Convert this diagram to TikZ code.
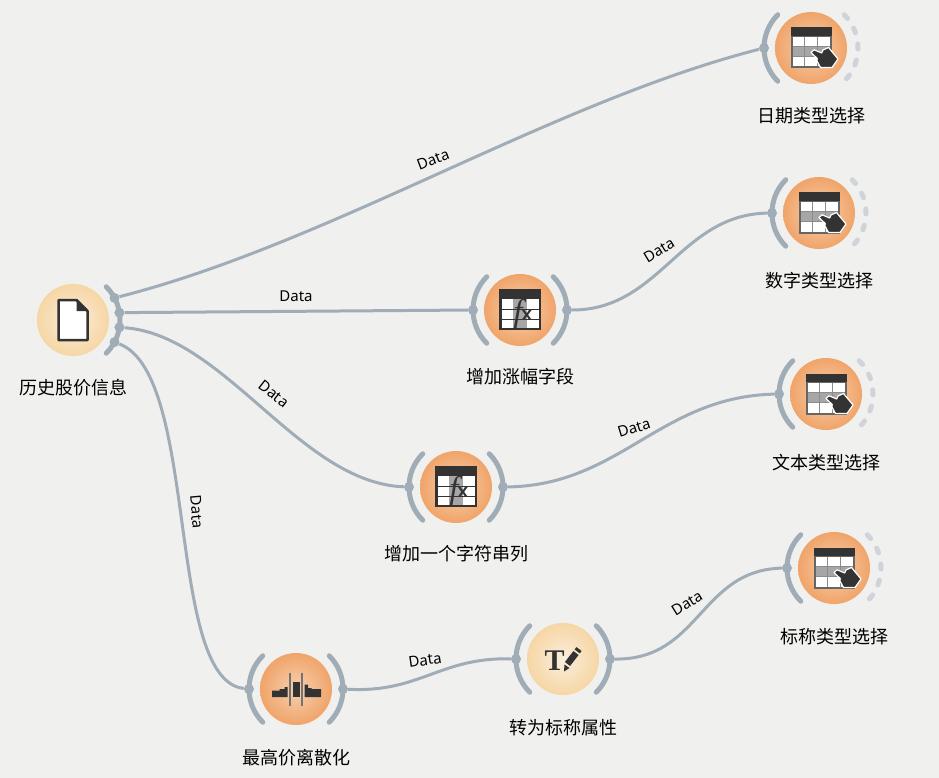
\documentclass[tikz,border=0pt]{standalone}
\usepackage{fontspec}
\setmainfont{Noto Sans}
\newfontfamily\cjk{Noto Sans CJK SC}
\newfontfamily\tfont[BoldFont={* Bold}]{Liberation Serif}
\newfontfamily\xfont[BoldFont={* Bold}]{Liberation Sans}
\usetikzlibrary{calc}
\definecolor{canvasgray}{HTML}{F0F0EF}
\definecolor{linkgray}{HTML}{A0ADB7}
\definecolor{idlegray}{HTML}{CED4D9}
\definecolor{icondark}{HTML}{333333}
\definecolor{hotin}{HTML}{F7D0B0}
\definecolor{hotout}{HTML}{F0A469}
\definecolor{mildin}{HTML}{FBEEDB}
\definecolor{mildout}{HTML}{F6D6A5}
\tikzset{
  widget/.style={circle,minimum size=72pt,inner sep=0pt},
  hot/.style={widget,inner color=hotin,outer color=hotout},
  mild/.style={widget,inner color=mildin,outer color=mildout},
  portdot/.style={circle,fill=linkgray,minimum size=10pt,inner sep=0pt},
  portarc/.style={draw=linkgray,line width=5pt,line cap=round},
  idlearc/.style={draw=idlegray,line width=5pt,line cap=round,dash pattern=on 5pt off 11.4pt},
  link/.style={draw=linkgray,line width=3pt},
  linktext/.style={font=\fontsize{15}{17}\selectfont,inner sep=0pt},
  nametext/.style={font=\cjk\fontsize{18}{20}\selectfont,inner sep=0pt}
}
% table with the pointing hand
\newcommand{\selecticon}{
  \fill[black!60] (-20.5,-20.5) rectangle (20.5,20.5);
  \fill[icondark] (-20.5,-20.5) rectangle (20.5,-12);
  \fill[white] (-18.5,-11) rectangle (19,18.5);
  \fill[black!35] (-18.5,-1.5) rectangle (19,8.5);
  \foreach \gx in {-6.5,6.3} \draw[black!45,line width=1.3pt] (\gx,-11) -- (\gx,18.5);
  \foreach \gy in {-1.5,8.5} \draw[black!45,line width=1.3pt] (-18.5,\gy) -- (19,\gy);
  \draw[white,line width=1.2pt,fill=icondark,line join=round] (0,4.5) -- (3,1.8) -- (10.7,5) -- (12,2) -- (17.5,-0.5)
    -- (27,11) -- (21,19.5) -- (9.5,19.5) -- (6,13) -- (6.2,10.5) -- cycle;
}
% table with the formula sign
\newcommand{\formulaicon}{
  \fill[icondark] (-21,-21) rectangle (21,20);
  \fill[white] (-18.5,-11) rectangle (18.5,18);
  \fill[black!35] (-7,-11) rectangle (7,18);
  \foreach \gy in {-1,9} \draw[icondark,line width=1pt] (-18.5,\gy) -- (18.5,\gy);
  \node[text=icondark,inner sep=0pt,font=\tfont\fontsize{33}{33}\selectfont\itshape] at (-2,4) {f};
  \node[text=icondark,inner sep=0pt,font=\xfont\fontsize{19}{19}\selectfont\bfseries] at (7,5.5) {x};
}
\begin{document}
\begin{tikzpicture}[x=1pt,y=-1pt]
  \useasboundingbox[fill=canvasgray] (0,0) rectangle (939,778);
  % widgets
  \foreach \nm/\px/\py/\kind/\lab/\ly in {
    sela/811/48/hot/日期类型选择/116,
    selb/819/213/hot/数字类型选择/281,
    selc/826/394/hot/文本类型选择/463,
    seld/834/568/hot/标称类型选择/637,
    fxa/520/310/hot/增加涨幅字段/377,
    fxb/456/487/hot/增加一个字符串列/554,
    disc/296/689/hot/最高价离散化/758,
    totext/563/659/mild/转为标称属性/728,
    file/73/320/mild/历史股价信息/388} {
    \node[\kind] (\nm) at (\px,\py) {};
    \node[nametext] (\nm-name) at (\px,\ly) {\lab};
  }
  % left arcs with the input port
  \foreach \nm in {sela,selb,selc,seld,fxa,fxb,disc,totext} {
    \draw[portarc] ($(\nm)+(135:47pt)$) arc[start angle=135,end angle=225,radius=47pt];
    \node[portdot] (\nm-in) at ($(\nm)+(180:47pt)$) {};
  }
  % right arcs with the output port
  \foreach \nm in {fxa,fxb,disc,totext} {
    \draw[portarc] ($(\nm)+(45:47pt)$) arc[start angle=45,end angle=-45,radius=47pt];
    \node[portdot] (\nm-out) at ($(\nm)+(0:47pt)$) {};
  }
  \foreach \nm in {sela,selb,selc,seld}
    \draw[idlearc] ($(\nm)+(45:47pt)$) arc[start angle=45,end angle=-45,radius=47pt];
  \draw[portarc] ($(file)+(45:47pt)$) arc[start angle=45,end angle=-45,radius=47pt];
  \foreach \n/\a in {a/28,b/9,c/-9,d/-28}
    \node[portdot] (file-\n) at ($(file)+(\a:47pt)$) {};
  % connectors
  \draw[link] (file-a) .. controls (330,243) and (550,103) .. (sela-in);
  \draw[link] (file-b) -- (fxa-in);
  \draw[link] (file-c) .. controls (225,335) and (300,483) .. (fxb-in);
  \draw[link] (file-d) .. controls (200,375) and (165,680) .. (disc-in);
  \draw[link] (fxa-out) .. controls (660,310) and (680,215) .. (selb-in);
  \draw[link] (fxb-out) .. controls (620,485) and (660,397) .. (selc-in);
  \draw[link] (disc-out) .. controls (420,693) and (440,657) .. (totext-in);
  \draw[link] (totext-out) .. controls (700,660) and (700,570) .. (seld-in);
  % link labels
  \foreach \nm/\px/\py/\r in {la/433/160/21,lb/296/296/0,lc/274/394/-38,ld/197/512/-85,le/659/250/31,lf/634/428/17,lg/425/660/8,lh/687/603/32}
    \node[linktext,rotate=\r] (\nm) at (\px,\py) {Data};
  % icons
  \foreach \nm in {sela,selb,selc,seld} {
    \begin{scope}[shift={(\nm)}] \selecticon \end{scope}
  }
  \foreach \nm in {fxa,fxb} {
    \begin{scope}[shift={(\nm)}] \formulaicon \end{scope}
  }
  \begin{scope}[shift={(file)}]
    \draw[icondark,line width=2.5pt,fill=white,line join=round] (-14.5,-20) -- (3.5,-20) -- (14.5,-9) -- (14.5,20) -- (-14.5,20) -- cycle;
    \fill[icondark] (3.5,-20) -- (14.5,-9) -- (3.5,-9) -- cycle;
  \end{scope}
  \begin{scope}[shift={(disc)}]
    \fill[icondark] (-24,8) -- (-24,1.5) -- (-16.5,1.5) -- (-16.5,0) -- (-11.5,0) -- (-11.5,-2) -- (-8.5,-2) -- (-8.5,8) -- cycle;
    \fill[icondark] (-3.5,8) rectangle (3.5,-7.5);
    \fill[icondark] (8.5,8) -- (8.5,-4.5) -- (12,-4.5) -- (12,-1) -- (15.5,-1) -- (15.5,0) -- (25,0) -- (25,8) -- cycle;
    \foreach \gx in {-6.3,6} \draw[black!55,line width=2pt] (\gx,-16.5) -- (\gx,17);
  \end{scope}
  \begin{scope}[shift={(totext)}]
    \node[text=icondark,inner sep=0pt,font=\tfont\fontsize{30}{30}\selectfont\bfseries] (ticon) at (-8.5,2) {T};
    \draw[icondark,line width=6.5pt] (4.5,5) -- (13,-6);
    \draw[icondark,line width=6.5pt] (14.2,-7.6) -- (16,-10);
    \fill[icondark] (1,12.5) -- (1.5,5.5) -- (6.5,9) -- cycle;
  \end{scope}
\end{tikzpicture}
\end{document}
